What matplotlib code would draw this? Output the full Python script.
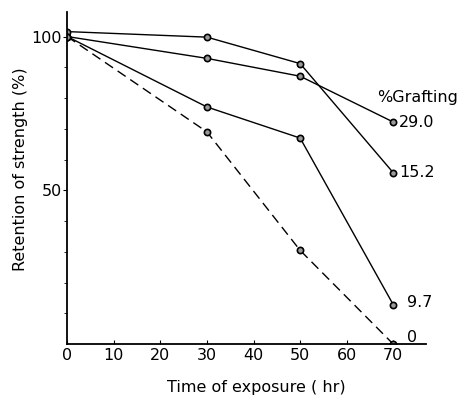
import numpy as np
import matplotlib
matplotlib.use("Agg")
import matplotlib.pyplot as plt

# exposure time (hr)
hours = [0, 30, 50, 70]
# retention of strength (%) for each grafting level
graft_labels = ["29.0", "15.2", "9.7", "0"]
ret_290 = [100, 92.9, 87.1, 72.2]
ret_152 = [101.6, 99.8, 91.2, 55.7]
ret_97 = [100, 77.1, 67.0, 12.8]
ret_0 = [100, 69.0, 30.5, 0]

plt.rcParams["font.family"] = "DejaVu Sans"
fs = 11.5

fig = plt.figure(figsize=(4.63, 3.97), dpi=100)
ax = fig.add_axes([0.145, 0.133, 0.775, 0.837])

mk = dict(marker="o", markersize=4.5, mfc="#9a9a9a", mec="black", mew=1.2)
ax.plot(hours, ret_290, color="black", lw=1.0, **mk)
ax.plot(hours, ret_152, color="black", lw=1.0, **mk)
ax.plot(hours, ret_97, color="black", lw=1.0, **mk)
ax.plot(hours, ret_0, color="black", lw=1.0, ls=(0, (7, 4)), **mk)

# labels at end of curves
series = [ret_290, ret_152, ret_97, ret_0]
offsets = [(4, 0), (4, 0), (10, 2), (10, 5)]
for lab, s, off in zip(graft_labels, series, offsets):
    ax.annotate(lab, (hours[-1], s[-1]), xytext=off, textcoords="offset points",
                fontsize=fs, va="center", ha="left")
ax.text(66.5, 80.2, "%Grafting", fontsize=fs, va="center", ha="left")

ax.set_xlim(0, 77)
ax.set_ylim(0, 108)
ax.set_xticks(np.arange(0, 71, 10))
ax.set_yticks([50, 100])
ax.set_yticks(np.arange(10, 101, 10), minor=True)
ax.tick_params(axis="x", direction="in", length=3, labelsize=fs, pad=3)
ax.tick_params(axis="y", which="both", direction="out", length=3, labelsize=fs, pad=1)
ax.tick_params(axis="y", which="minor", length=2.5)

for sp in ["top", "right"]:
    ax.spines[sp].set_visible(False)
for sp in ["left", "bottom"]:
    ax.spines[sp].set_linewidth(1.3)

ax.set_xlabel("Time of exposure ( hr)", fontsize=fs)
ax.set_ylabel("Retention of strength (%)", fontsize=fs)
ax.xaxis.set_label_coords(0.528, -0.108)
ax.yaxis.set_label_coords(-0.11, 0.527)

fig.savefig("out.png", dpi=100)
